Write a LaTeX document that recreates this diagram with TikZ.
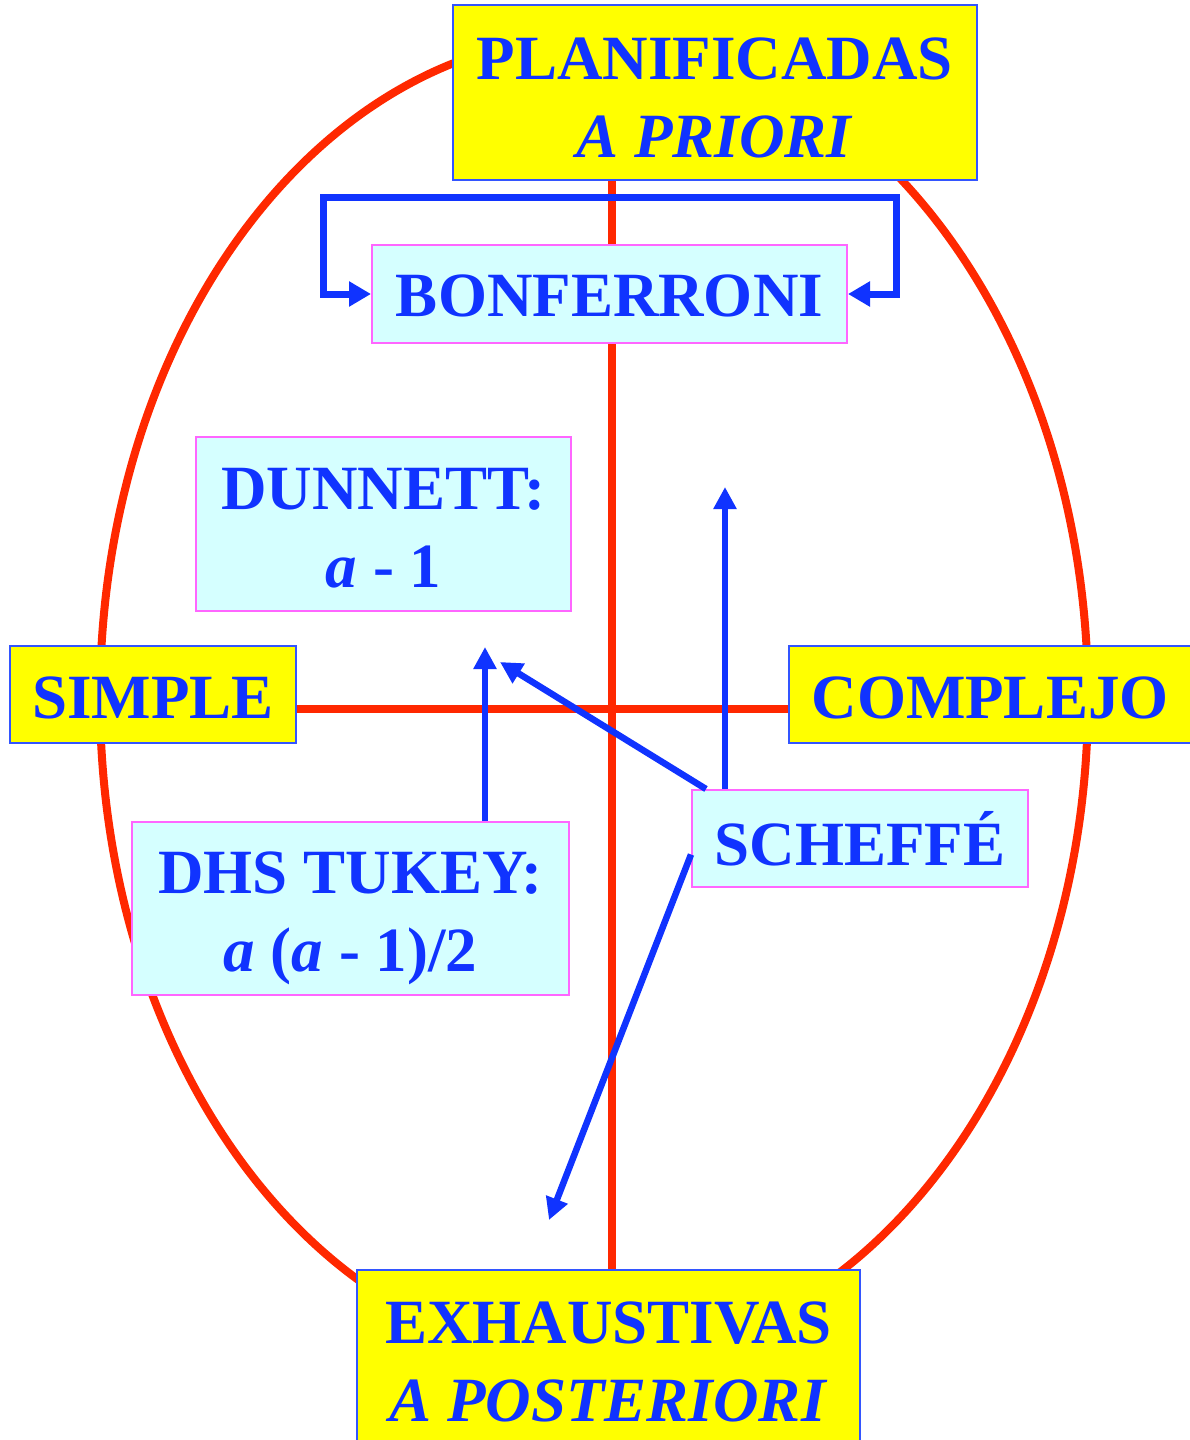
\documentclass[tikz,border=0pt]{standalone}
\usepackage{fontspec}
\setmainfont{Liberation Serif}
\usetikzlibrary{arrows.meta,backgrounds}
\definecolor{txtblue}{RGB}{16,51,255}
\definecolor{axisred}{RGB}{255,40,0}
\definecolor{boxyellow}{RGB}{255,255,0}
\definecolor{boxcyan}{RGB}{213,255,255}
\definecolor{boxpink}{RGB}{255,102,255}
\definecolor{edgeblue}{RGB}{51,85,255}
% invisible strut that lowers a node's text block
\newcommand{\lowerby}[1]{\rule{0pt}{#1pt}}
\begin{document}
\begin{tikzpicture}[x=1pt,y=-1pt,
  every node/.style={font=\fontsize{63}{78}\selectfont\bfseries, text=txtblue,
    align=center, inner sep=0pt},
  headbox/.style={fill=boxyellow, draw=edgeblue, line width=2pt},
  testbox/.style={fill=boxcyan, draw=boxpink, line width=2pt},
  axis/.style={draw=axisred, line width=8pt},
  link/.style={draw=txtblue, line width=6.5pt,
    -{Triangle[length=22pt,width=22pt]}},
  bracket/.style={draw=txtblue, line width=7pt, line join=miter,
    {Triangle[length=22pt,width=24pt]}-{Triangle[length=22pt,width=24pt]}},
  ]
\clip (0,0) rectangle (1190,1440);

% category boxes
\node[headbox, minimum width=524pt, minimum height=175pt] (plan) at (715,92.5)
  {\lowerby{52}PLANIFICADAS\\\textit{A PRIORI}};
\node[headbox, minimum width=503pt, minimum height=175pt] (exh) at (608.5,1357.5)
  {\lowerby{50}EXHAUSTIVAS\\\textit{A POSTERIORI}};
\node[headbox, minimum width=286pt, minimum height=97pt] (simple) at (153,694.5)
  {\lowerby{48}SIMPLE};
\node[headbox, minimum width=402pt, minimum height=97pt] (complejo) at (990,694.5)
  {\lowerby{48}COMPLEJO};

% test boxes
\node[testbox, minimum width=475pt, minimum height=98pt] (bonf) at (609.5,294)
  {\lowerby{46}BONFERRONI};
\node[testbox, minimum width=375pt, minimum height=174pt] (dun) at (383.5,524)
  {\lowerby{50}DUNNETT:\\\textit{a} - 1};
\node[testbox, minimum width=437pt, minimum height=173pt] (tukey) at (350.5,908.5)
  {\lowerby{62}DHS TUKEY:\\\textit{a} (\textit{a} - 1)/2};
\node[testbox, minimum width=336pt, minimum height=97pt] (sch) at (860,838.5)
  {SCHEFFÉ};

% axes and the ellipse, behind the boxes
\coordinate (vx) at (612,0);
\coordinate (hy) at (0,709);
\begin{scope}[on background layer]
  \draw[axisred, line width=8pt] (594,698) ellipse [x radius=494pt, y radius=662pt];
  \draw[axis] (vx |- plan.south) -- (vx |- exh.north);
  \draw[axis] (simple.east |- hy) -- (complejo.west |- hy);
\end{scope}

% bracket around Bonferroni
\coordinate (bl) at (323,197);
\coordinate (br) at (896,197);
\draw[bracket] (bonf.west) -- (bonf.west -| bl) -- (bl) -- (br)
  -- (bonf.east -| br) -- (bonf.east);

% arrows
\coordinate (tk) at (485,647);
\coordinate (t1) at (500,662);
\coordinate (t2) at (725,487);
\coordinate (t3) at (549,1220);
\draw[link] (tukey.north -| tk) -- (tk);
\draw[link] ([xshift=15pt]sch.north west) -- (t1);
\draw[link] (sch.north -| t2) -- (t2);
\draw[link] ([yshift=-16pt]sch.west) -- (t3);
\end{tikzpicture}
\end{document}
